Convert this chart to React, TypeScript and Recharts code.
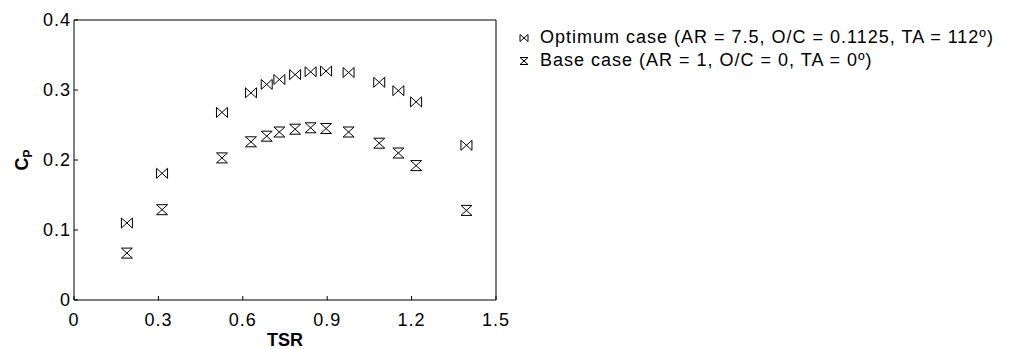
import React from "react";
import { ScatterChart, Scatter, XAxis, YAxis, Legend } from "recharts";

// TSR values shared by both cases
const tsr = [0.188, 0.313, 0.526, 0.629, 0.685, 0.73, 0.786, 0.841, 0.896, 0.976, 1.085, 1.153, 1.216, 1.395];
const optimumCp = [0.11, 0.181, 0.268, 0.296, 0.308, 0.315, 0.322, 0.326, 0.327, 0.325, 0.311, 0.299, 0.283, 0.221];
const baseCp = [0.067, 0.129, 0.203, 0.226, 0.234, 0.24, 0.244, 0.246, 0.245, 0.24, 0.224, 0.21, 0.192, 0.128];

const xTicks = [0, 0.3, 0.6, 0.9, 1.2, 1.5];
const yTicks = [0, 0.1, 0.2, 0.3, 0.4];

const optimumName = "Optimum case (AR = 7.5, O/C = 0.1125, TA = 112º)";
const baseName = "Base case (AR = 1, O/C = 0, TA = 0º)";

const optimumData = tsr.map((x, i) => ({ tsr: x, cp: optimumCp[i] }));
const baseData = tsr.map((x, i) => ({ tsr: x, cp: baseCp[i] }));

const FONT = "'Liberation Sans', Arial, Helvetica, sans-serif";
const tickStyle = { fill: "#000", fontSize: 18, fontFamily: FONT, letterSpacing: 1 };

const bowTiePath = (cx: number, cy: number, w: number, h: number) =>
  `M${cx - w},${cy - h}L${cx - w},${cy + h}L${cx + w},${cy - h}L${cx + w},${cy + h}Z`;
const hourglassPath = (cx: number, cy: number, w: number, h: number) =>
  `M${cx - w},${cy - h}L${cx + w},${cy - h}L${cx - w},${cy + h}L${cx + w},${cy + h}Z`;

function BowTie(props: any) {
  const { cx, cy } = props;
  return <path d={bowTiePath(cx, cy, 5.5, 5)} fill="none" stroke="#000" strokeWidth={1} />;
}

function Hourglass(props: any) {
  const { cx, cy } = props;
  return <path d={hourglassPath(cx, cy, 5.5, 5)} fill="none" stroke="#000" strokeWidth={1} />;
}

// only there so the mirrored top/right axes (box ticks) get drawn
const NoMark = () => <g />;

function YLabel(props: any) {
  const { viewBox } = props;
  const cx = viewBox.x + 20;
  const cy = viewBox.y + viewBox.height / 2;
  return (
    <text
      x={cx}
      y={cy}
      transform={`rotate(-90 ${cx} ${cy})`}
      textAnchor="middle"
      fontFamily={FONT}
      fontWeight="bold"
      fontSize={18}
      fill="#000"
    >
      C
      <tspan fontSize={12} dy={4}>
        P
      </tspan>
    </text>
  );
}

function LegendBox() {
  const rows = [
    { name: optimumName, path: bowTiePath(7, 6, 4, 3.5) },
    { name: baseName, path: hourglassPath(7, 6, 4, 3.5) },
  ];
  return (
    <div style={{ fontFamily: FONT, fontSize: 18, letterSpacing: 1, color: "#000" }}>
      {rows.map((r) => (
        <div key={r.name} style={{ display: "flex", alignItems: "center", height: 23, whiteSpace: "nowrap" }}>
          <svg width={14} height={12} style={{ marginRight: 9 }}>
            <path d={r.path} fill="none" stroke="#000" strokeWidth={1} />
          </svg>
          <span>{r.name}</span>
        </div>
      ))}
    </div>
  );
}

export default function App() {
  return (
    <ScatterChart width={1001} height={341} margin={{ top: 11, right: 512, bottom: 0, left: 0 }}>
      <XAxis
        type="number"
        dataKey="tsr"
        domain={[0, 1.5]}
        ticks={xTicks}
        allowDataOverflow
        height={49}
        stroke="#000"
        tickSize={-4}
        tickMargin={17}
        tick={tickStyle}
        label={{
          value: "TSR",
          position: "insideBottom",
          offset: 3,
          fill: "#000",
          fontSize: 18,
          fontWeight: "bold",
          fontFamily: FONT,
        }}
      />
      <XAxis
        xAxisId="top"
        orientation="top"
        type="number"
        dataKey="tsr"
        domain={[0, 1.5]}
        ticks={xTicks}
        allowDataOverflow
        height={1}
        stroke="#000"
        tickSize={-4}
        tick={false}
      />
      <YAxis
        type="number"
        dataKey="cp"
        domain={[0, 0.4]}
        ticks={yTicks}
        allowDataOverflow
        width={66}
        stroke="#000"
        tickSize={-4}
        tickMargin={7}
        tick={tickStyle}
        label={{ content: YLabel }}
      />
      <YAxis
        yAxisId="right"
        orientation="right"
        type="number"
        dataKey="cp"
        domain={[0, 0.4]}
        ticks={yTicks}
        allowDataOverflow
        width={1}
        stroke="#000"
        tickSize={-4}
        tick={false}
      />
      <Legend
        layout="vertical"
        align="center"
        verticalAlign="middle"
        wrapperStyle={{ left: 509, top: 18, width: "auto" }}
        content={() => <LegendBox />}
      />
      <Scatter name={optimumName} data={optimumData} shape={BowTie} isAnimationActive={false} />
      <Scatter name={baseName} data={baseData} shape={Hourglass} isAnimationActive={false} />
      <Scatter
        xAxisId="top"
        yAxisId="right"
        data={baseData}
        shape={NoMark}
        legendType="none"
        isAnimationActive={false}
      />
    </ScatterChart>
  );
}
